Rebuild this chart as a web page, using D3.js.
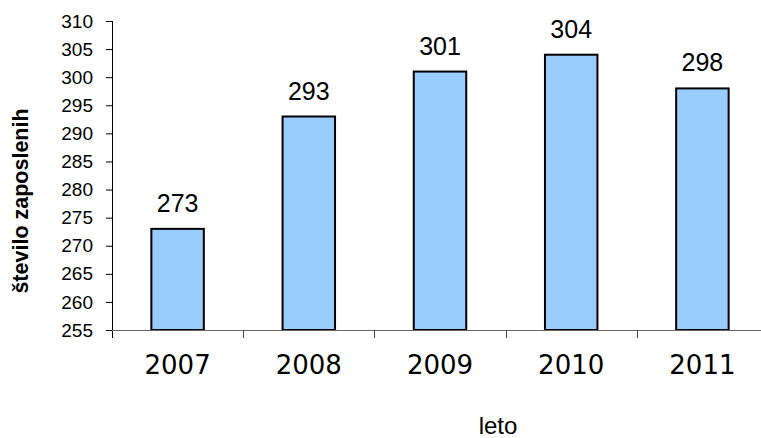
<!DOCTYPE html>
<html>
<head>
<meta charset="utf-8">
<script src="https://cdn.jsdelivr.net/npm/d3@7"></script>
<style>
  html, body { margin: 0; padding: 0; background: #fff; }
  svg { display: block; }
</style>
</head>
<body>
<svg id="chart" width="761" height="438"></svg>
<script>
// Number of employees per year
const years = ["2007", "2008", "2009", "2010", "2011"];
const employees = [273, 293, 301, 304, 298];
const yTicks = [255, 260, 265, 270, 275, 280, 285, 290, 295, 300, 305, 310];
const yTitle = "število zaposlenih";
const xTitle = "leto";

const svg = d3.select("#chart");

const x = d3.scaleBand().domain(years).range([112, 768]).paddingInner(0.6).paddingOuter(0.3);
const y = d3.scaleLinear().domain([255, 310]).range([330, 21]);

// Bars
svg.append("g").selectAll("rect")
  .data(years)
  .join("rect")
  .attr("x", (d) => x(d))
  .attr("y", (d, i) => y(employees[i]))
  .attr("width", x.bandwidth())
  .attr("height", (d, i) => y(255) - y(employees[i]))
  .attr("fill", "#99CCFF")
  .attr("stroke", "#000")
  .attr("stroke-width", 2);

// Value labels above bars
svg.append("g").selectAll("text")
  .data(years)
  .join("text")
  .attr("x", (d) => x(d) + x.bandwidth() / 2)
  .attr("y", (d, i) => y(employees[i]) - 17)
  .attr("text-anchor", "middle")
  .attr("font-family", "Liberation Sans, Arial, sans-serif")
  .attr("font-size", 25)
  .attr("fill", "#000")
  .text((d, i) => employees[i]);

// Y axis
const yAxis = svg.append("g")
  .attr("transform", "translate(112,0)")
  .call(d3.axisLeft(y).tickValues(yTicks).tickSize(6).tickPadding(13).tickSizeOuter(0));
yAxis.select(".domain").attr("stroke", "#000").attr("d", "M0.5,21V338");
yAxis.selectAll(".tick line").attr("stroke", "#000");
yAxis.selectAll(".tick text")
  .attr("font-family", "Liberation Sans, Arial, sans-serif")
  .attr("font-size", 19)
  .attr("fill", "#000");

// X axis: line with ticks on category boundaries
const xAxis = svg.append("g").attr("transform", "translate(0,330)");
xAxis.append("line")
  .attr("x1", 112).attr("x2", 768)
  .attr("y1", 0.5).attr("y2", 0.5)
  .attr("stroke", "#666");
const step = x.step();
xAxis.selectAll("line.sep")
  .data(years.slice(1))
  .join("line")
  .attr("class", "sep")
  .attr("x1", (d) => Math.round(x(d) - (step - x.bandwidth()) / 2) + 0.5)
  .attr("x2", (d) => Math.round(x(d) - (step - x.bandwidth()) / 2) + 0.5)
  .attr("y1", 0).attr("y2", 8)
  .attr("stroke", "#444");
xAxis.selectAll("text")
  .data(years)
  .join("text")
  .attr("x", (d) => x(d) + x.bandwidth() / 2)
  .attr("y", 44)
  .attr("text-anchor", "middle")
  .attr("font-family", "DejaVu Sans, Verdana, sans-serif")
  .attr("font-size", 26)
  .attr("fill", "#000")
  .text((d) => d);

// Axis titles
svg.append("text")
  .attr("transform", "translate(28,201) rotate(-90)")
  .attr("text-anchor", "middle")
  .attr("font-family", "Liberation Sans, Arial, sans-serif")
  .attr("font-weight", "bold")
  .attr("font-size", 21.5)
  .attr("fill", "#000")
  .text(yTitle);

svg.append("text")
  .attr("x", 498)
  .attr("y", 434)
  .attr("text-anchor", "middle")
  .attr("font-family", "Liberation Sans, Arial, sans-serif")
  .attr("font-size", 24)
  .attr("fill", "#000")
  .text(xTitle);
</script>
</body>
</html>
